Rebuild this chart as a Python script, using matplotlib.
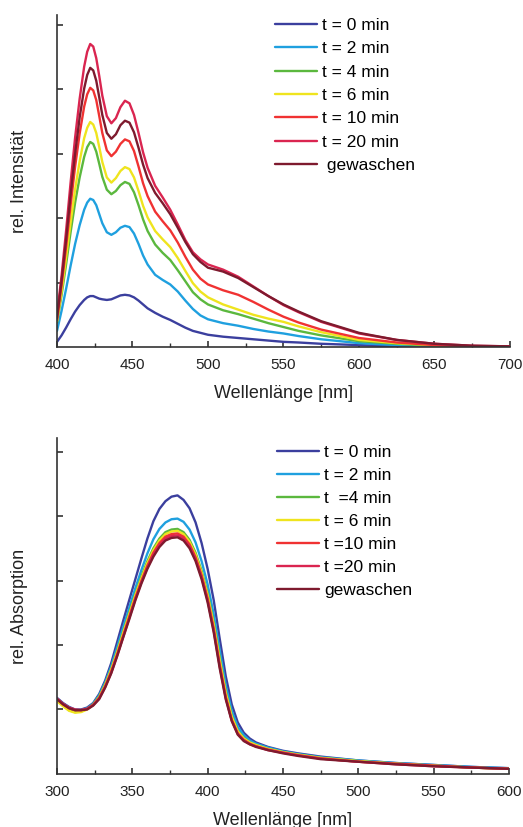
import numpy as np
import matplotlib
matplotlib.use("Agg")
import matplotlib.pyplot as plt

plt.rc("font", family=["Liberation Sans", "DejaVu Sans"])
plt.rc("lines", solid_joinstyle="round", solid_capstyle="round")

# ---------------- data: emission (top) ----------------
wl_em = [400, 403, 406, 409, 412, 415, 418, 420, 422, 424, 426, 428, 430, 433, 436, 439, 442, 445, 448, 451,
         454, 457, 460, 465, 470, 475, 480, 485, 490, 495, 500, 510, 520, 530, 540, 550, 560, 575, 600, 625,
         650, 675, 700]
em_0 = [0.08, 0.18, 0.30, 0.43, 0.55, 0.65, 0.73, 0.77, 0.79, 0.79, 0.77, 0.75, 0.74, 0.73, 0.74, 0.77, 0.80, 0.81, 0.80, 0.77,
        0.72, 0.66, 0.60, 0.53, 0.47, 0.42, 0.36, 0.30, 0.25, 0.22, 0.19, 0.16, 0.14, 0.12, 0.10, 0.08, 0.07, 0.05, 0.03, 0.01,
        0.01, 0.00, 0.00]
em_2 = [0.25, 0.56, 0.90, 1.26, 1.60, 1.89, 2.13, 2.24, 2.30, 2.28, 2.20, 2.06, 1.92, 1.78, 1.74, 1.78, 1.85, 1.88, 1.86, 1.76,
        1.60, 1.42, 1.28, 1.12, 1.04, 0.97, 0.86, 0.72, 0.59, 0.49, 0.43, 0.37, 0.33, 0.28, 0.24, 0.21, 0.17, 0.12, 0.06, 0.03,
        0.01, 0.00, 0.00]
em_4 = [0.38, 0.80, 1.28, 1.78, 2.24, 2.63, 2.95, 3.10, 3.18, 3.15, 3.03, 2.84, 2.64, 2.44, 2.37, 2.42, 2.51, 2.56, 2.53, 2.40,
        2.20, 1.98, 1.80, 1.59, 1.46, 1.35, 1.19, 1.02, 0.85, 0.74, 0.66, 0.57, 0.51, 0.44, 0.37, 0.31, 0.25, 0.18, 0.09, 0.05,
        0.02, 0.01, 0.00]
em_6 = [0.40, 0.86, 1.38, 1.93, 2.45, 2.88, 3.24, 3.40, 3.49, 3.45, 3.32, 3.10, 2.87, 2.63, 2.55, 2.62, 2.73, 2.79, 2.76, 2.63,
        2.42, 2.19, 2.01, 1.80, 1.67, 1.55, 1.38, 1.18, 0.99, 0.86, 0.77, 0.66, 0.58, 0.50, 0.44, 0.39, 0.32, 0.23, 0.11, 0.06,
        0.03, 0.01, 0.00]
em_10 = [0.42, 0.95, 1.55, 2.20, 2.80, 3.31, 3.73, 3.92, 4.02, 3.98, 3.83, 3.58, 3.32, 3.05, 2.96, 3.03, 3.15, 3.22, 3.19, 3.04,
         2.80, 2.54, 2.34, 2.10, 1.95, 1.81, 1.62, 1.40, 1.20, 1.06, 0.97, 0.88, 0.81, 0.70, 0.58, 0.47, 0.38, 0.27, 0.14, 0.07,
         0.03, 0.01, 0.00]
em_20 = [0.50, 1.10, 1.80, 2.55, 3.25, 3.85, 4.35, 4.58, 4.70, 4.66, 4.48, 4.20, 3.90, 3.58, 3.47, 3.55, 3.72, 3.82, 3.78, 3.60,
         3.32, 3.02, 2.78, 2.50, 2.32, 2.13, 1.90, 1.66, 1.47, 1.36, 1.28, 1.20, 1.09, 0.94, 0.79, 0.65, 0.54, 0.39, 0.21, 0.11,
         0.05, 0.02, 0.01]
em_gw = [0.45, 1.02, 1.66, 2.36, 3.00, 3.56, 4.01, 4.22, 4.33, 4.29, 4.13, 3.87, 3.60, 3.32, 3.23, 3.30, 3.44, 3.51, 3.48, 3.33,
         3.09, 2.83, 2.62, 2.39, 2.23, 2.06, 1.85, 1.63, 1.44, 1.32, 1.23, 1.17, 1.07, 0.93, 0.79, 0.66, 0.55, 0.40, 0.22, 0.11,
         0.05, 0.02, 0.01]
em_labels = ["t = 0 min", "t = 2 min", "t = 4 min", "t = 6 min", "t = 10 min", "t = 20 min", " gewaschen"]

# ---------------- data: absorption (bottom) ----------------
wl_ab = [300, 304, 308, 312, 316, 320, 324, 328, 332, 336, 340, 344, 348, 352, 356, 360, 364, 368, 372, 376,
         380, 384, 388, 392, 396, 400, 404, 408, 412, 416, 420, 424, 428, 432, 440, 450, 460, 475, 500, 525,
         550, 575, 600]
ab_0 = [1.18, 1.10, 1.04, 1.00, 1.00, 1.03, 1.10, 1.24, 1.45, 1.72, 2.05, 2.38, 2.70, 3.02, 3.34, 3.65, 3.92, 4.11, 4.23, 4.30,
        4.32, 4.25, 4.12, 3.90, 3.58, 3.18, 2.70, 2.10, 1.52, 1.08, 0.80, 0.64, 0.55, 0.49, 0.42, 0.36, 0.32, 0.27, 0.21, 0.17,
        0.14, 0.11, 0.09]
ab_2 = [1.17, 1.09, 1.03, 0.99, 0.99, 1.02, 1.09, 1.22, 1.42, 1.67, 1.97, 2.28, 2.58, 2.88, 3.16, 3.42, 3.64, 3.80, 3.90, 3.95,
        3.96, 3.91, 3.79, 3.59, 3.30, 2.94, 2.48, 1.92, 1.38, 0.98, 0.73, 0.60, 0.52, 0.47, 0.41, 0.35, 0.31, 0.26, 0.21, 0.17,
        0.14, 0.11, 0.09]
ab_4 = [1.14, 1.06, 0.99, 0.96, 0.97, 1.01, 1.08, 1.20, 1.39, 1.63, 1.91, 2.21, 2.50, 2.79, 3.06, 3.30, 3.50, 3.65, 3.75, 3.79,
        3.80, 3.75, 3.63, 3.43, 3.15, 2.80, 2.35, 1.80, 1.28, 0.90, 0.67, 0.56, 0.49, 0.45, 0.39, 0.34, 0.30, 0.25, 0.20, 0.16,
        0.13, 0.10, 0.08]
ab_6 = [1.13, 1.05, 0.98, 0.95, 0.96, 1.00, 1.07, 1.19, 1.38, 1.62, 1.89, 2.19, 2.48, 2.77, 3.03, 3.27, 3.47, 3.62, 3.72, 3.76,
        3.77, 3.72, 3.60, 3.40, 3.12, 2.77, 2.32, 1.77, 1.26, 0.89, 0.66, 0.55, 0.49, 0.45, 0.39, 0.34, 0.30, 0.25, 0.20, 0.16,
        0.13, 0.10, 0.08]
ab_10 = [1.16, 1.08, 1.02, 0.99, 0.99, 1.01, 1.07, 1.18, 1.36, 1.59, 1.86, 2.15, 2.44, 2.73, 2.99, 3.23, 3.43, 3.58, 3.68, 3.72,
         3.73, 3.68, 3.56, 3.36, 3.08, 2.72, 2.26, 1.70, 1.20, 0.84, 0.63, 0.53, 0.47, 0.43, 0.38, 0.33, 0.29, 0.24, 0.19, 0.16,
         0.13, 0.10, 0.08]
ab_20 = [1.17, 1.09, 1.03, 1.00, 0.99, 1.01, 1.07, 1.17, 1.35, 1.57, 1.84, 2.13, 2.42, 2.71, 2.97, 3.20, 3.40, 3.55, 3.65, 3.69,
         3.70, 3.65, 3.53, 3.33, 3.05, 2.69, 2.23, 1.67, 1.18, 0.83, 0.62, 0.52, 0.46, 0.43, 0.37, 0.33, 0.29, 0.24, 0.19, 0.15,
         0.12, 0.10, 0.08]
ab_gw = [1.16, 1.08, 1.02, 0.99, 0.99, 1.00, 1.06, 1.16, 1.34, 1.56, 1.83, 2.12, 2.40, 2.69, 2.95, 3.18, 3.37, 3.52, 3.62, 3.66,
         3.67, 3.62, 3.50, 3.30, 3.02, 2.66, 2.20, 1.64, 1.16, 0.82, 0.61, 0.51, 0.46, 0.42, 0.37, 0.32, 0.28, 0.23, 0.19, 0.15,
         0.12, 0.10, 0.08]
ab_labels = ["t = 0 min", "t = 2 min", "t  =4 min", "t = 6 min", "t =10 min", "t =20 min", "gewaschen"]

colors = ["#3b3f9e", "#1fa0df", "#5bb83e", "#efe41e", "#f03232", "#da2550", "#7e1a2e"]

######
fig = plt.figure(figsize=(5.23, 8.27), dpi=100)


def style_axes(ax, xmin, xmax, ymax):
    ax.set_xlim(xmin, xmax)
    ax.set_ylim(0, ymax)
    for s in ("top", "right"):
        ax.spines[s].set_visible(False)
    for s in ("left", "bottom"):
        ax.spines[s].set_color("#333333")
        ax.spines[s].set_linewidth(1.2)
    ax.set_xticks(np.arange(xmin, xmax + 1, 50))
    ax.set_xticks(np.arange(xmin + 25, xmax, 50), minor=True)
    ax.set_yticks([1, 2, 3, 4, 5])
    ax.set_yticklabels([])
    ax.tick_params(axis="both", which="major", direction="in", length=4, width=1.2,
                   color="#333333", labelsize=11, labelcolor="#222222", pad=8)
    ax.tick_params(axis="x", which="minor", direction="in", length=3, width=1.0, color="#333333")
    ax.set_xlabel("Wellenlänge [nm]", fontsize=13, color="#222222", labelpad=9)


# XY-plot: emission
ax1 = fig.add_axes([0.109, 0.5804, 0.866, 0.4015])
for ys, c, lab in zip([em_0, em_2, em_4, em_6, em_10, em_20, em_gw], colors, em_labels):
    ax1.plot(wl_em, ys, color=c, lw=1.7, label=lab)
style_axes(ax1, 400, 700, 5.15)
ax1.set_ylabel("rel. Intensität", fontsize=13, color="#222222", labelpad=13)
ax1.legend(loc="upper left", bbox_to_anchor=(0.466, 1.012), frameon=False, fontsize=12.5,
           handlelength=2.4, handletextpad=0.3, labelspacing=0.47, borderaxespad=0.0)

# XY-plot: absorption
ax2 = fig.add_axes([0.109, 0.0641, 0.864, 0.4063])
for ys, c, lab in zip([ab_0, ab_2, ab_4, ab_6, ab_10, ab_20, ab_gw], colors, ab_labels):
    ax2.plot(wl_ab, ys, color=c, lw=1.7, label=lab)
style_axes(ax2, 300, 600, 5.21)
ax2.set_ylabel("rel. Absorption", fontsize=13, color="#222222", labelpad=13)
ax2.legend(loc="upper left", bbox_to_anchor=(0.472, 1.0), frameon=False, fontsize=12.5,
           handlelength=2.4, handletextpad=0.3, labelspacing=0.45, borderaxespad=0.0)

plt.savefig("out.png", dpi=100)
